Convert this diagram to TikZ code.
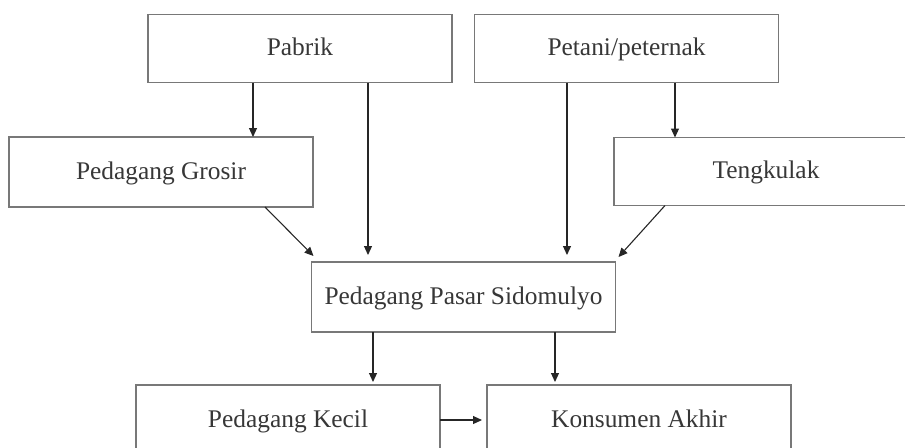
\documentclass[tikz,border=0pt]{standalone}
\usepackage{fontspec}
\setmainfont{Liberation Serif}
\usepackage{tikz}
\usetikzlibrary{arrows.meta}
\definecolor{boxgray}{RGB}{120,120,120}
\definecolor{txtgray}{RGB}{55,55,55}

\begin{document}
\begin{tikzpicture}[x=0.5pt,y=-0.5pt,
box/.style={draw=boxgray,line width=0.7pt,minimum width=152pt,minimum height=34pt,inner sep=0pt,outer sep=0pt,text=txtgray,text height=10pt,text depth=3pt,font=\fontsize{12.7}{15}\selectfont},
arr/.style={-{Triangle[length=4.5pt,width=4pt]},line width=0.55pt,draw=black!85}]

\useasboundingbox (0,0) rectangle (905,447);

\node[box] (pabrik) at (300,48.5) {Pabrik};
\node[box] (petani) at (626.5,48.5) {Petani/peternak};
\node[box,minimum height=35pt] (grosir) at (161,172) {Pedagang Grosir};
\node[box] (tengkulak) at (766,171.5) {Tengkulak};
\node[box,minimum height=35pt] (pps) at (463.5,297) {Pedagang Pasar Sidomulyo};
\node[box,minimum height=35pt] (kecil) at (288,420) {Pedagang Kecil};
\node[box,minimum height=35pt] (konsumen) at (639,420) {Konsumen Akhir};

\draw[arr] ([xshift=-23.5pt]pabrik.south) -- ([xshift=-23.5pt]pabrik.south |- grosir.north);
\draw[arr,shorten >=3.5pt] ([xshift=34pt]pabrik.south) -- ([xshift=34pt]pabrik.south |- pps.north);
\draw[arr,shorten >=3.5pt] ([xshift=-29.75pt]petani.south) -- ([xshift=-29.75pt]petani.south |- pps.north);
\draw[arr] ([xshift=24.25pt]petani.south) -- ([xshift=24.25pt]petani.south |- tengkulak.north);

\draw[arr] ([xshift=-24pt]grosir.south east) -- ([xshift=1pt,yshift=3pt]pps.north west);
\draw[arr] ([xshift=25.5pt]tengkulak.south west) -- ([xshift=1.5pt,yshift=2.5pt]pps.north east);

\draw[arr,shorten >=1.5pt] ([xshift=-45.25pt]pps.south) -- ([xshift=-45.25pt]pps.south |- kecil.north);
\draw[arr,shorten >=1.5pt] ([xshift=45.75pt]pps.south) -- ([xshift=45.75pt]pps.south |- konsumen.north);
\draw[arr,shorten >=2.5pt] (kecil.east) -- (konsumen.west);
\end{tikzpicture}
\end{document}
